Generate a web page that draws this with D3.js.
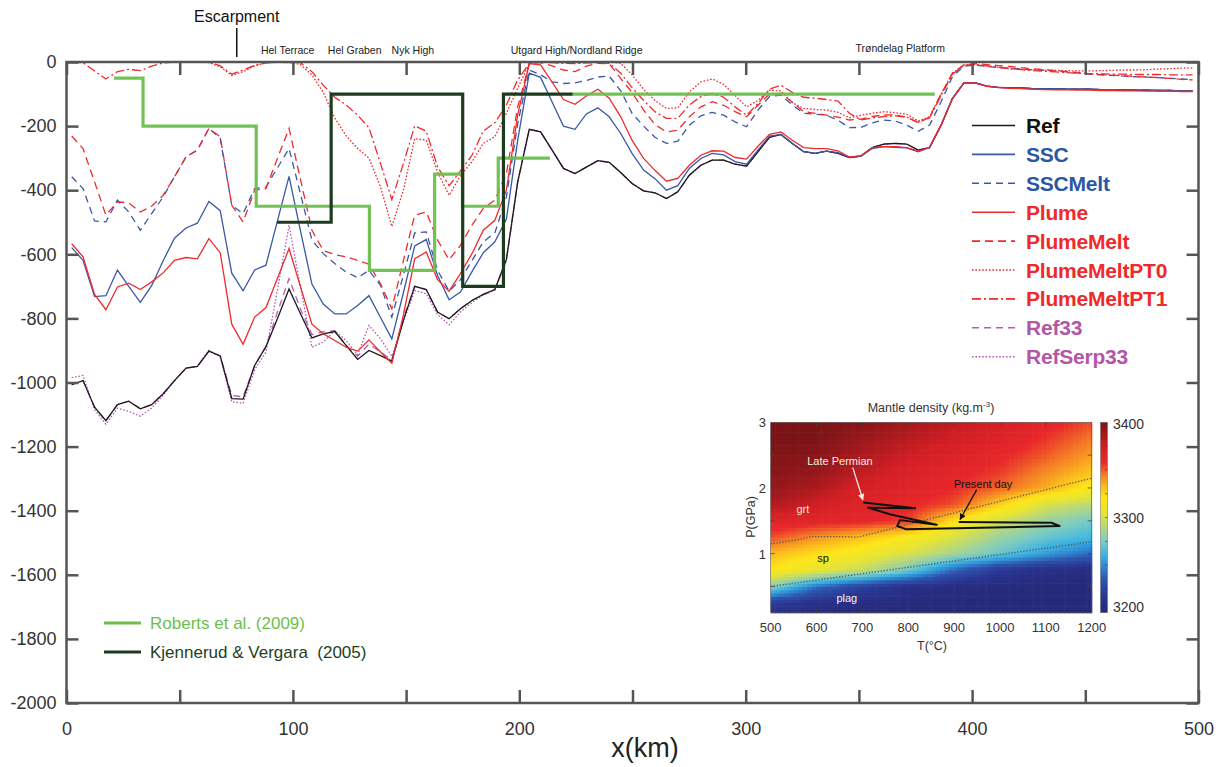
<!DOCTYPE html>
<html><head><meta charset="utf-8">
<script src="https://cdn.jsdelivr.net/npm/d3@7"></script>
<style>body{margin:0;background:#fff}svg{display:block}</style>
</head><body>
<svg id="chart" width="1226" height="767"></svg>
<script>
// ---------------- DATA ----------------
const xKm = [2.3,7.3,12.4,17.4,22.5,27.5,32.6,37.6,42.7,47.7,
52.8,57.8,62.9,67.9,73.0,78.0,83.1,88.1,93.2,98.3,
103.3,108.4,113.4,118.5,123.5,128.6,133.6,138.7,143.7,148.8,
153.8,158.9,163.9,169.0,174.0,179.1,184.1,189.2,194.3,199.3,
204.4,209.4,214.5,219.5,224.6,229.6,234.7,239.7,244.8,249.8,
254.9,259.9,265.0,270.0,275.1,280.2,285.2,290.3,295.3,300.4,
305.4,310.5,315.5,320.6,325.6,330.7,335.7,340.8,345.8,350.9,
355.9,361.0,366.0,371.1,376.2,381.2,386.3,391.3,396.4,401.4,
406.5,411.5,416.6,421.6,426.7,431.7,436.8,441.8,446.9,451.9,
457.0,462.0,467.1,472.2,477.2,482.3,487.3,492.4,497.4];

const refVals = [-1007,-994,-1077,-1119,-1069,-1058,-1082,-1069,-1035,-994,
-955,-950,-902,-917,-1050,-1052,-947,-888,-800,-708,
-785,-861,-848,-841,-884,-928,-900,-916,-933,-806,
-700,-710,-780,-801,-770,-744,-725,-710,-616,-374,
-210,-218,-275,-332,-348,-328,-308,-313,-345,-379,
-402,-408,-426,-405,-353,-322,-306,-306,-319,-325,
-280,-235,-226,-254,-280,-285,-278,-285,-298,-294,
-267,-256,-254,-256,-275,-267,-197,-114,-65,-65,
-75,-79,-80,-81,-83,-84,-84,-85,-85,-85,
-86,-86,-87,-88,-88,-89,-89,-90,-90];

const sscVals = [-579,-619,-732,-729,-649,-700,-750,-698,-620,-550,
-518,-503,-435,-464,-659,-714,-649,-634,-495,-357,
-525,-693,-755,-786,-786,-760,-729,-797,-864,-720,
-574,-554,-666,-742,-718,-654,-595,-561,-490,-244,
-35,-48,-125,-200,-210,-162,-143,-171,-223,-285,
-337,-364,-400,-386,-332,-301,-285,-290,-311,-319,
-275,-231,-226,-254,-280,-285,-278,-283,-297,-294,
-270,-264,-266,-268,-280,-267,-197,-114,-65,-65,
-75,-79,-80,-81,-83,-84,-84,-85,-85,-85,
-86,-86,-87,-88,-88,-89,-89,-90,-90];

const sscMeltVals = [-358,-395,-496,-499,-431,-468,-525,-473,-421,-358,
-296,-275,-207,-238,-447,-473,-395,-390,-330,-270,
-410,-556,-598,-629,-655,-673,-650,-697,-796,-665,
-533,-530,-650,-715,-679,-620,-561,-533,-421,-192,
-25,-40,-62,-67,-65,-58,-47,-44,-90,-160,
-200,-235,-254,-247,-197,-168,-157,-166,-187,-202,
-150,-108,-103,-134,-160,-163,-166,-182,-205,-204,
-190,-181,-184,-197,-216,-197,-124,-46,-13,-10,
-14,-17,-20,-22,-24,-26,-28,-31,-34,-38,
-40,-42,-44,-46,-47,-49,-51,-53,-55];

const plumeVals = [-567,-608,-725,-773,-702,-690,-710,-686,-658,-619,
-610,-614,-551,-595,-818,-881,-796,-766,-675,-582,
-700,-818,-848,-869,-890,-902,-867,-905,-940,-790,
-614,-593,-679,-715,-660,-598,-525,-494,-400,-165,
-5,-9,-63,-117,-132,-106,-85,-113,-171,-244,
-301,-338,-372,-363,-322,-291,-277,-278,-298,-303,
-263,-226,-218,-244,-267,-270,-270,-277,-297,-292,
-267,-264,-264,-267,-278,-267,-197,-114,-65,-65,
-76,-80,-82,-83,-85,-86,-87,-87,-88,-88,
-89,-89,-90,-90,-91,-91,-91,-92,-92];

const plumeMeltVals = [-231,-270,-374,-478,-436,-440,-468,-450,-416,-358,
-296,-275,-207,-233,-447,-499,-400,-395,-300,-207,
-365,-525,-588,-601,-608,-619,-631,-692,-770,-620,
-478,-468,-556,-617,-572,-509,-457,-431,-348,-140,
-5,-2,-12,-25,-30,-13,-4,-6,-51,-95,
-150,-195,-218,-213,-171,-140,-124,-135,-155,-171,
-135,-100,-98,-125,-155,-160,-166,-172,-181,-178,
-170,-165,-165,-172,-190,-172,-100,-35,-9,-5,
-8,-11,-14,-18,-21,-24,-27,-30,-33,-37,
-39,-41,-43,-45,-47,-49,-51,-54,-56];

const plumeMeltPT0Vals = [0,0,0,0,0,0,0,0,0,0,
0,0,-2,-15,-42,-30,-12,-3,-1,-2,
-8,-40,-95,-175,-230,-270,-300,-390,-513,-400,
-239,-244,-343,-416,-355,-311,-254,-233,-160,-82,
-5,0,-1,-2,-2,-1,0,0,-4,-40,
-85,-120,-145,-143,-93,-62,-53,-70,-105,-140,
-120,-88,-90,-127,-145,-148,-150,-157,-174,-166,
-160,-155,-158,-163,-184,-171,-100,-35,-9,-8,
-12,-17,-22,-23,-24,-25,-26,-27,-28,-28,
-27,-26,-25,-25,-24,-22,-21,-19,-18];

const plumeMeltPT1Vals = [0,-2,-28,-53,-30,-23,-27,-13,-3,0,
0,0,0,-12,-38,-25,-10,-3,0,0,
-2,-30,-72,-110,-134,-166,-205,-317,-429,-317,
-199,-216,-327,-386,-340,-291,-215,-190,-134,-56,
-4,0,-2,-4,-5,-3,-2,-4,-35,-80,
-120,-155,-176,-176,-134,-108,-98,-110,-140,-166,
-130,-85,-72,-95,-110,-113,-117,-122,-160,-181,
-175,-170,-168,-172,-188,-175,-105,-38,-10,-8,
-12,-16,-20,-24,-27,-29,-31,-33,-35,-36,
-37,-38,-38,-39,-39,-39,-40,-40,-40];

const ref33Vals = [-1007,-994,-1077,-1119,-1069,-1058,-1082,-1069,-1035,-994,
-955,-950,-902,-917,-1040,-1045,-947,-888,-780,-676,
-770,-850,-842,-838,-884,-918,-880,-905,-930,-800,
-700,-710,-780,-801,-770,-744,-725,-710,-616,-374,
-210,-218,-275,-332,-348,-328,-308,-313,-345,-379,
-402,-408,-426,-405,-353,-322,-306,-306,-319,-325,
-280,-235,-226,-254,-280,-285,-278,-285,-298,-294,
-267,-256,-254,-256,-275,-267,-197,-114,-65,-65,
-75,-79,-80,-81,-83,-84,-84,-85,-85,-85,
-86,-86,-87,-88,-88,-89,-89,-90,-90];

const refSerp33Vals = [-985,-978,-1085,-1130,-1080,-1090,-1105,-1080,-1040,-995,
-955,-950,-900,-920,-1060,-1065,-960,-905,-710,-510,
-700,-890,-874,-838,-869,-913,-822,-864,-918,-810,
-713,-723,-788,-820,-780,-750,-727,-712,-620,-374,
-210,-218,-275,-332,-348,-328,-308,-313,-345,-379,
-402,-408,-426,-405,-353,-322,-306,-306,-319,-325,
-280,-235,-226,-254,-280,-285,-278,-285,-298,-294,
-267,-256,-254,-256,-275,-267,-197,-114,-65,-65,
-75,-79,-80,-81,-83,-84,-84,-85,-85,-85,
-86,-86,-87,-88,-88,-89,-89,-90,-90];

// step profiles (x km, depth m)
const robertsX = [21, 33.8, 83.8, 133.8, 162.6, 174.9, 190.7, 213.5];
const robertsY = [-50, -200, -450, -650, -350, -450, -300, -300];
const roberts2X = [223.3, 383.5];
const roberts2Y = [-100, -100];
const kjennerudX = [93, 116.9, 175, 193, 223.5];
const kjennerudY = [-500, -100, -700, -100, -100];

const seriesNames = ["Ref","SSC","SSCMelt","Plume","PlumeMelt","PlumeMeltPT0","PlumeMeltPT1","Ref33","RefSerp33"];
const xTickValues = [0,50,100,150,200,250,300,350,400,450,500];
const xTickLabels = [0,100,200,300,400,500];
const yTickValues = [0,-200,-400,-600,-800,-1000,-1200,-1400,-1600,-1800,-2000];

const topLabels = ["Hel Terrace","Hel Graben","Nyk High","Utgard High/Nordland Ridge","Trøndelag Platform"];
const topLabelKm = [97.7, 127.3, 153, 225.3, 368.3];
const escarpmentKm = 75.2;

// inset: mantle density grid (kg/m3), rows by pressure, columns by temperature
const densT = [500,600,700,800,900,1000,1100,1200];
const densP = [3.0,2.75,2.5,2.25,2.0,1.75,1.5,1.25,1.0,0.75,0.5,0.25,0.0];
const densRows = [
 [3400,3400,3396,3388,3380,3372,3362,3352],
 [3400,3399,3390,3382,3374,3366,3356,3345],
 [3398,3396,3385,3376,3368,3360,3350,3338],
 [3396,3392,3380,3370,3362,3355,3342,3330],
 [3392,3385,3372,3365,3358,3348,3335,3316],
 [3385,3375,3366,3360,3352,3326,3300,3290],
 [3365,3362,3360,3355,3320,3298,3282,3273],
 [3352,3340,3330,3316,3300,3282,3270,3262],
 [3332,3322,3312,3300,3285,3270,3254,3240],
 [3320,3307,3294,3272,3238,3216,3207,3204],
 [3278,3242,3222,3209,3204,3202,3201,3200],
 [3220,3209,3204,3202,3201,3200,3200,3200],
 [3203,3201,3200,3200,3200,3200,3200,3200]];
const grtSpT = [500,550,590,640,690,1200];
const grtSpP = [1.15,1.20,1.26,1.26,1.25,2.15];
const spPlagT = [500,1200];
const spPlagP = [0.50,1.18];
const pathT = [702,815,712,760,862,782,776,796,1130,1112,910];
const pathP = [1.78,1.69,1.70,1.60,1.44,1.51,1.42,1.37,1.42,1.47,1.48];
const insetXTicks = [500,600,700,800,900,1000,1100,1200];
const insetYTicks = [1,2,3];
const cbarTicks = [3200,3300,3400];

// ---------------- DRAW ----------------
const svg = d3.select("#chart");
const FONT = "'Liberation Sans', Arial, sans-serif";
const x = d3.scaleLinear().domain([0,500]).range([66.5,1198.5]);
const y = d3.scaleLinear().domain([-2000,0]).range([703,62]);

const cRef="#1a1a1a", cBlue="#3b58a8", cRed="#ee2b2d", cPurple="#b65bb6";
const cGreen="#6cbf4b", cDark="#1d3b1e";

const series = [
 {name:"Ref", v:refVals, color:cRef, dash:null, text:"#111"},
 {name:"SSC", v:sscVals, color:cBlue, dash:null, text:"#2a56a6"},
 {name:"SSCMelt", v:sscMeltVals, color:cBlue, dash:"7,5", text:"#2a56a6"},
 {name:"Plume", v:plumeVals, color:cRed, dash:null, text:"#ee2a2a"},
 {name:"PlumeMelt", v:plumeMeltVals, color:cRed, dash:"8,5", text:"#ee2a2a"},
 {name:"PlumeMeltPT0", v:plumeMeltPT0Vals, color:cRed, dash:"1.6,1.8", text:"#ee2a2a"},
 {name:"PlumeMeltPT1", v:plumeMeltPT1Vals, color:cRed, dash:"9,3,2,3", text:"#ee2a2a"},
 {name:"Ref33", v:ref33Vals, color:cPurple, dash:"7,5", text:"#b356a8"},
 {name:"RefSerp33", v:refSerp33Vals, color:cPurple, dash:"1.6,1.8", text:"#b356a8"}
];

const line = d3.line().x(d=>x(d[0])).y(d=>y(d[1]));
const gLines = svg.append("g");
const order = [8,7,0,1,2,3,4,5,6];
order.forEach(i=>{
  const s = series[i];
  gLines.append("path")
    .datum(xKm.map((k,j)=>[k,s.v[j]]))
    .attr("d", line).attr("fill","none")
    .attr("stroke", s.color).attr("stroke-width", 1.3)
    .attr("stroke-dasharray", s.dash);
});

// step lines
const stepLine = d3.line().x(d=>x(d[0])).y(d=>y(d[1])).curve(d3.curveStepAfter);
svg.append("path").datum(robertsX.map((k,i)=>[k,robertsY[i]])).attr("d",stepLine)
  .attr("fill","none").attr("stroke",cGreen).attr("stroke-width",3.2).attr("opacity",0.95);
svg.append("path").datum(roberts2X.map((k,i)=>[k,roberts2Y[i]])).attr("d",stepLine)
  .attr("fill","none").attr("stroke",cGreen).attr("stroke-width",3.2).attr("opacity",0.95);
svg.append("path").datum(kjennerudX.map((k,i)=>[k,kjennerudY[i]])).attr("d",stepLine)
  .attr("fill","none").attr("stroke",cDark).attr("stroke-width",3.2);

// axes
const axColor = "#555";
function styleAxis(g, labels){
  g.select(".domain").remove();
  g.selectAll(".tick line").attr("stroke",axColor).attr("stroke-width",2.5);
  g.selectAll("text").attr("font-family",FONT).attr("font-size",18).attr("fill","#333");
  if(!labels) g.selectAll("text").remove();
}
svg.append("g").attr("transform","translate(66.5,0)")
  .call(d3.axisLeft(y).tickValues(yTickValues).tickSize(-12).tickPadding(10).tickFormat(d=>String(d)))
  .call(g=>styleAxis(g,true));
svg.append("g").attr("transform","translate(1198.5,0)")
  .call(d3.axisRight(y).tickValues(yTickValues).tickSize(-12))
  .call(g=>styleAxis(g,false));
svg.append("g").attr("transform","translate(0,703)")
  .call(d3.axisBottom(x).tickValues(xTickValues).tickSize(-13).tickPadding(19)
     .tickFormat(d=> xTickLabels.includes(d) ? String(d) : ""))
  .call(g=>styleAxis(g,true));
svg.append("g").attr("transform","translate(0,62)")
  .call(d3.axisTop(x).tickValues(xTickValues).tickSize(-13))
  .call(g=>styleAxis(g,false));
svg.append("rect").attr("x",66.5).attr("y",62).attr("width",1132).attr("height",641)
  .attr("fill","none").attr("stroke",axColor).attr("stroke-width",2.5);

svg.append("text").attr("x",645).attr("y",757).attr("text-anchor","middle")
  .attr("font-family",FONT).attr("font-size",27).attr("fill","#222").text("x(km)");

// top annotations
svg.append("text").attr("x",x(escarpmentKm)).attr("y",22).attr("text-anchor","middle")
  .attr("font-family",FONT).attr("font-size",16).attr("fill","#111").text("Escarpment");
svg.append("line").attr("x1",x(escarpmentKm)).attr("x2",x(escarpmentKm)).attr("y1",28).attr("y2",57)
  .attr("stroke","#111").attr("stroke-width",1.5);
topLabels.forEach((t,i)=>{
  svg.append("text").attr("x",x(topLabelKm[i])).attr("y", i===4?52:54).attr("text-anchor","middle")
    .attr("font-family",FONT).attr("font-size",10.5).attr("fill","#222").text(t);
});

// legend (series)
const legY0 = 125.5, legDy = 28.9;
series.forEach((s,i)=>{
  const yy = legY0 + i*legDy;
  svg.append("line").attr("x1",972).attr("x2",1015).attr("y1",yy).attr("y2",yy)
    .attr("stroke",s.color).attr("stroke-width",1.6).attr("stroke-dasharray",s.dash);
  svg.append("text").attr("x",1026).attr("y",yy+7.5).attr("font-family",FONT)
    .attr("font-weight","bold").attr("font-size",21).attr("letter-spacing",-0.2)
    .attr("fill",s.text).text(s.name);
});

// legend (references)
const refLeg = [{t:"Roberts et al. (2009)", c:cGreen, tc:"#6cbf4b", y:623},
                {t:"Kjennerud & Vergara  (2005)", c:cDark, tc:"#1d4220", y:652}];
refLeg.forEach(r=>{
  svg.append("line").attr("x1",104).attr("x2",141).attr("y1",r.y).attr("y2",r.y)
    .attr("stroke",r.c).attr("stroke-width",3.2);
  svg.append("text").attr("x",150).attr("y",r.y+6).attr("font-family",FONT).attr("font-size",17)
    .attr("fill",r.tc).style("white-space","pre").text(r.t);
});

// ---------------- INSET ----------------
const ix = d3.scaleLinear().domain([500,1200]).range([770.7,1091.7]);
const iy = d3.scaleLinear().domain([0.1,3]).range([612.7,422.3]);
const cmap = d3.scaleLinear()
  .domain([3200,3215,3235,3250,3262,3275,3290,3305,3320,3333,3345,3358,3375,3388,3400])
  .range(["#262a7a","#2a3592","#2d55ad","#2f8fd4","#3fb6e0","#7ecbc0","#b6d87c","#e6e434",
          "#fde619","#fbb81d","#f47a25","#e8282a","#d11f25","#a3191d","#7a1416"])
  .clamp(true);

function dens(t,p){
  let ci = Math.min(densT.length-2, Math.max(0, Math.floor((t-500)/100)));
  let ft = (t - densT[ci]) / (densT[ci+1]-densT[ci]);
  let ri = 0;
  while(ri < densP.length-2 && p < densP[ri+1]) ri++;
  let fp = (densP[ri]-p)/(densP[ri]-densP[ri+1]);
  const a = densRows[ri][ci], b = densRows[ri][ci+1];
  const c = densRows[ri+1][ci], d = densRows[ri+1][ci+1];
  return (a*(1-ft)+b*ft)*(1-fp) + (c*(1-ft)+d*ft)*fp;
}
const cells = [];
for(let ti=0; ti<70; ti++){
  for(let pi=0; pi<58; pi++){
    const t0 = 500 + ti*10, p0 = 0.1 + pi*0.05;
    cells.push({t0, p0, v: dens(t0+5, p0+0.025)});
  }
}
const gIn = svg.append("g");
gIn.selectAll("rect.cell").data(cells).join("rect").attr("class","cell")
  .attr("x", d=>ix(d.t0)).attr("y", d=>iy(d.p0+0.05))
  .attr("width", d=>ix(d.t0+10)-ix(d.t0)+0.6)
  .attr("height", d=>iy(d.p0)-iy(d.p0+0.05)+0.6)
  .attr("fill", d=>cmap(d.v));
gIn.append("rect").attr("x",ix(500)).attr("y",iy(3)).attr("width",ix(1200)-ix(500))
  .attr("height",iy(0.1)-iy(3)).attr("fill","none").attr("stroke","#555").attr("stroke-width",0.6);

const tickMarksT = [600,700,800,900,1000,1100];
tickMarksT.forEach(t=>{
  gIn.append("line").attr("x1",ix(t)).attr("x2",ix(t)).attr("y1",iy(3)).attr("y2",iy(3)+4).attr("stroke","#444").attr("stroke-width",0.8);
  gIn.append("line").attr("x1",ix(t)).attr("x2",ix(t)).attr("y1",iy(0.1)).attr("y2",iy(0.1)-4).attr("stroke","#444").attr("stroke-width",0.8);
});
[0.5,1,1.5,2,2.5].forEach(p=>{
  gIn.append("line").attr("x1",ix(500)).attr("x2",ix(500)+4).attr("y1",iy(p)).attr("y2",iy(p)).attr("stroke","#444").attr("stroke-width",0.8);
  gIn.append("line").attr("x1",ix(1200)).attr("x2",ix(1200)-4).attr("y1",iy(p)).attr("y2",iy(p)).attr("stroke","#444").attr("stroke-width",0.8);
});

const iline = d3.line().x(d=>ix(d[0])).y(d=>iy(d[1]));
gIn.append("path").datum(grtSpT.map((t,i)=>[t,grtSpP[i]])).attr("d",iline)
  .attr("fill","none").attr("stroke","#5a5a5a").attr("stroke-width",1.3).attr("stroke-dasharray","1.3,1.7");
gIn.append("path").datum(spPlagT.map((t,i)=>[t,spPlagP[i]])).attr("d",iline)
  .attr("fill","none").attr("stroke","#5a5a5a").attr("stroke-width",1.3).attr("stroke-dasharray","1.3,1.7");
gIn.append("path").datum(pathT.map((t,i)=>[t,pathP[i]])).attr("d",iline)
  .attr("fill","none").attr("stroke","#111").attr("stroke-width",2).attr("stroke-linejoin","round");

const defs = svg.append("defs");
function marker(id,col){
  defs.append("marker").attr("id",id).attr("viewBox","0 0 10 10").attr("refX",9).attr("refY",5)
    .attr("markerWidth",5).attr("markerHeight",5).attr("orient","auto")
    .append("path").attr("d","M0,0L10,5L0,10z").attr("fill",col);
}
marker("arW","#f3eee0"); marker("arK","#111");
gIn.append("line").attr("x1",ix(679)).attr("y1",iy(2.31)).attr("x2",ix(701)).attr("y2",iy(1.82))
  .attr("stroke","#f3eee0").attr("stroke-width",1.3).attr("marker-end","url(#arW)");
gIn.append("line").attr("x1",ix(949)).attr("y1",iy(1.97)).attr("x2",ix(913)).attr("y2",iy(1.52))
  .attr("stroke","#111").attr("stroke-width",1.3).attr("marker-end","url(#arK)");

const insetLabels = [
  {t:"Late Permian", T:651, P:2.41, c:"#f5efe0"},
  {t:"Present day", T:963, P:2.06, c:"#111"},
  {t:"grt", T:570, P:1.68, c:"#f5e6d8"},
  {t:"sp", T:614, P:0.93, c:"#111"},
  {t:"plag", T:666, P:0.32, c:"#f5f5f5"}];
insetLabels.forEach(l=>{
  gIn.append("text").attr("x",ix(l.T)).attr("y",iy(l.P)+4).attr("text-anchor","middle")
    .attr("font-family",FONT).attr("font-size",11).attr("fill",l.c).text(l.t);
});

insetXTicks.forEach(t=>{
  gIn.append("text").attr("x",ix(t)).attr("y",632).attr("text-anchor","middle")
    .attr("font-family",FONT).attr("font-size",13).attr("fill","#333").text(t);
});
insetYTicks.forEach(p=>{
  gIn.append("text").attr("x",766).attr("y",iy(p)+5).attr("text-anchor","end")
    .attr("font-family",FONT).attr("font-size",13).attr("fill","#333").text(p);
});
gIn.append("text").attr("x",932).attr("y",650).attr("text-anchor","middle")
  .attr("font-family",FONT).attr("font-size",12.5).attr("fill","#333").text("T(°C)");
gIn.append("text").attr("transform","translate(755,517) rotate(-90)").attr("text-anchor","middle")
  .attr("font-family",FONT).attr("font-size",12.5).attr("fill","#333").text("P(GPa)");
const title = gIn.append("text").attr("x",931).attr("y",412).attr("text-anchor","middle")
  .attr("font-family",FONT).attr("font-size",12.5).attr("fill","#333");
title.append("tspan").text("Mantle density (kg.m");
title.append("tspan").attr("font-size",8).attr("dy",-5).text("-3");
title.append("tspan").attr("dy",5).text(")");

const cy = d3.scaleLinear().domain([3200,3400]).range([612.7,422.3]);
const grad = defs.append("linearGradient").attr("id","cbar").attr("x1",0).attr("x2",0).attr("y1",1).attr("y2",0);
cmap.domain().forEach(v=>{
  grad.append("stop").attr("offset",(v-3200)/200).attr("stop-color",cmap(v));
});
gIn.append("rect").attr("x",1100.5).attr("y",cy(3400)).attr("width",7).attr("height",cy(3200)-cy(3400))
  .attr("fill","url(#cbar)").attr("stroke","#666").attr("stroke-width",0.5);
[3225,3250,3275,3300,3325,3350,3375].forEach(v=>{
  gIn.append("line").attr("x1",1107.5).attr("x2",1105).attr("y1",cy(v)).attr("y2",cy(v)).attr("stroke","#333").attr("stroke-width",0.6);
});
cbarTicks.forEach(v=>{
  gIn.append("text").attr("x",1113).attr("y",cy(v)+ (v===3400?7:(v===3200?-1:5))).attr("font-family",FONT)
    .attr("font-size",14).attr("fill","#333").text(v);
});
</script>
</body></html>
